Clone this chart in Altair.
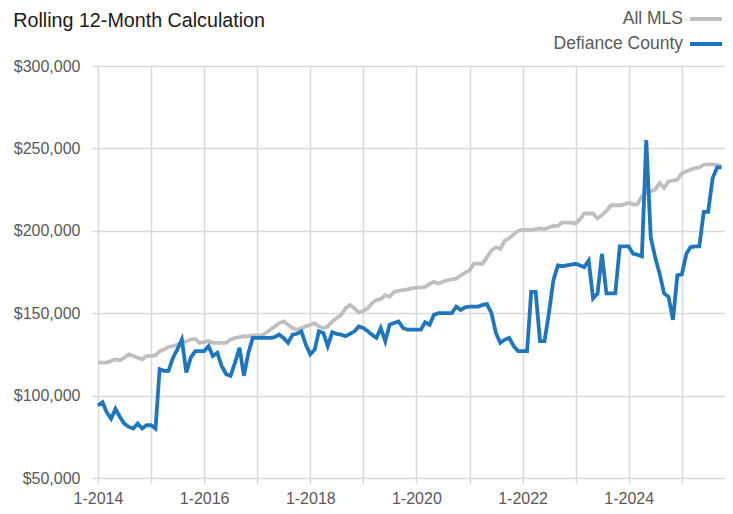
import altair as alt
import pandas as pd

# Monthly points, Jan 2014 .. Oct 2025 (values in $ thousands)
all_mls = [
    120, 120, 120, 121, 122, 121.5, 123, 125, 124, 123, 122, 124,
    124, 124.5, 127, 128, 129.5, 130, 131, 132, 133, 134, 134.5, 132,
    132.5, 133, 132, 132, 132, 132, 134, 135, 135.5, 136, 136, 136.5,
    136.5, 136.5, 138, 140, 142, 144, 145, 143, 141, 140, 141, 142,
    143, 144, 142, 141, 142, 145, 147, 149, 153, 155, 153, 150.5,
    151.5, 153, 156, 158, 158.5, 161, 160, 163, 163.5, 164, 164.5, 165,
    165.5, 165.5, 166, 167.7, 169, 168, 169, 170, 170.5, 171, 173, 174.5,
    176, 180, 180, 180, 184, 188, 190, 189, 194, 195.5, 198, 200,
    200.5, 200.5, 200.5, 201, 201.5, 201, 202, 203, 203, 205, 205, 205,
    204.5, 207, 210.5, 210.5, 210.5, 207.5, 209.5, 212, 215.5, 215.5, 215.5, 216,
    217, 216, 216, 221, 223, 224, 225, 229, 226, 230, 230.5, 231,
    235, 236, 237, 238, 238.5, 240, 240.3, 240.3, 240, 239,
]
defiance = [
    94, 96, 90, 86, 92, 87, 83, 81, 80, 83, 80, 82,
    82, 80, 116, 115, 115, 123, 128, 134, 114, 123, 127, 127,
    127, 130, 124, 126, 118, 113, 112, 120, 129, 112, 126, 135,
    135, 135, 135, 135, 135.5, 137, 135, 132, 137, 137.5, 139, 131,
    125, 128, 139, 138, 130, 138.5, 137.5, 137, 136, 137.5, 139, 142,
    141, 139, 137, 135, 141, 133, 143, 144, 145, 141, 140, 140,
    140, 140, 144.5, 143, 149, 150, 150, 150, 150, 154, 152, 153.5,
    154, 154, 154, 155, 155.5, 150, 138, 132, 134, 135, 130, 127,
    127, 127, 163, 163, 133, 133, 150, 170, 179, 178.5, 179, 179.5,
    180, 179, 178, 182, 159, 162, 186, 162, 162, 162, 190.5, 190.5,
    190.5, 186, 185.5, 184.5, 255, 196, 184, 174, 162, 160, 146, 173,
    173.5, 186, 190, 190.5, 190.5, 211.5, 211.5, 232, 238.5, 238.5,
]
series_names = ["All MLS", "Defiance County"]
series_colors = ["#BFBFBF", "#1F76BD"]
dates = [f"{2014 + i // 12}-{i % 12 + 1:02d}-01" for i in range(len(all_mls))]

rows = []
for name, vals in zip(series_names, [all_mls, defiance]):
    for d, v in zip(dates, vals):
        rows.append({"date": d, "series": name, "value": v * 1000})
df = pd.DataFrame(rows)
legend_df = pd.DataFrame({"series": series_names})


def ms(s):
    return int(pd.Timestamp(s, tz="UTC").timestamp() * 1000)


year_ticks = [ms(f"{y}-01-01") for y in range(2014, 2026)]
x_domain = [ms("2014-01-01"), ms("2025-10-25")]

FONT = "Liberation Sans"
GRID = "#D9D9D9"
LABEL = "#595959"

color = alt.Color(
    "series:N",
    scale=alt.Scale(domain=series_names, range=series_colors),
    legend=None,
)

lines = alt.Chart(df).mark_line(strokeWidth=3.8, strokeJoin="miter").encode(
    x=alt.X(
        "date:T",
        scale=alt.Scale(type="utc", domain=x_domain),
        axis=alt.Axis(
            values=year_ticks,
            labelExpr="utcyear(datum.value) % 2 == 0 ? '1-' + utcyear(datum.value) : ''",
            title=None,
            grid=True,
            gridColor=GRID,
            gridWidth=1.5,
            domain=False,
            ticks=True,
            tickColor=GRID,
            tickWidth=1.5,
            tickSize=6,
            labelPadding=6,
            labelFont=FONT,
            labelFontSize=16,
            labelColor=LABEL,
            labelOverlap=False,
            labelFlush=False,
        ),
    ),
    y=alt.Y(
        "value:Q",
        scale=alt.Scale(domain=[50000, 300000], nice=False, zero=False),
        axis=alt.Axis(
            values=[50000, 100000, 150000, 200000, 250000, 300000],
            format="$,.0f",
            title=None,
            grid=True,
            gridColor=GRID,
            gridWidth=1.5,
            domain=False,
            tickColor=GRID,
            tickWidth=1.5,
            tickSize=6,
            labelPadding=12,
            labelFont=FONT,
            labelFontSize=16,
            labelColor=LABEL,
        ),
    ),
    color=color,
)

legend_y = alt.Y(
    "series:N",
    scale=alt.Scale(type="point", domain=series_names, range=[-47, -22], padding=0),
    axis=None,
)

legend_swatch = alt.Chart(legend_df).mark_rule(strokeWidth=4).encode(
    y=legend_y,
    x=alt.value(592),
    x2=alt.value(624),
    color=color,
)

legend_text = alt.Chart(legend_df).mark_text(
    align="right", baseline="middle", font=FONT, fontSize=17.5, color=LABEL
).encode(
    y=legend_y,
    x=alt.value(585),
    text="series:N",
)

chart = alt.layer(lines, legend_swatch, legend_text).resolve_scale(
    y="independent"
).properties(
    width=627,
    height=412,
    autosize=alt.AutoSizeParams(type="none"),
    padding={"left": 90, "top": 58, "right": 0, "bottom": 28},
    title=alt.TitleParams(
        "Rolling 12-Month Calculation",
        anchor="start",
        font=FONT,
        fontSize=19.7,
        fontWeight="normal",
        color="#1A1A1A",
        offset=0,
        dy=21,
    ),
).configure_view(stroke=None)

chart.save("out.html", embed_options={"renderer": "svg", "actions": False})
